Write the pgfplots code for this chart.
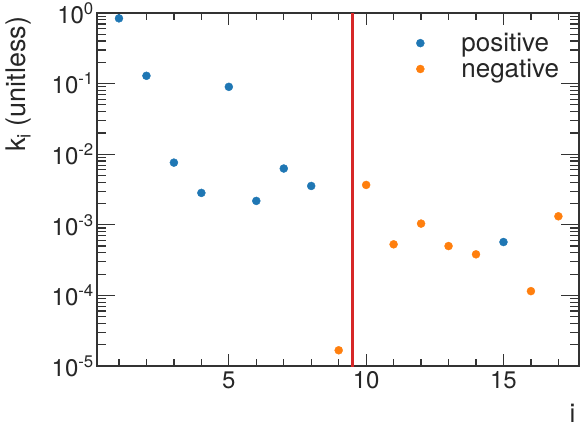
\documentclass[border=0pt]{standalone}
\usepackage{fontspec}
\setmainfont{TeX Gyre Heros}
\usepackage{pgfplots}
\usepackage{pgfplotstable}
\pgfplotsset{compat=1.18}

\definecolor{cblue}{HTML}{1F77B4}
\definecolor{corange}{HTML}{FF7F0E}
\definecolor{cred}{HTML}{D62728}
\definecolor{axgray}{HTML}{333333}

% positive k_i
\pgfplotstableread{
i k
1 0.84
2 0.129
3 0.0076
4 0.00283
5 0.090
6 0.00218
7 0.00627
8 0.00355
15 0.00057
}\positive

% negative k_i
\pgfplotstableread{
i k
9 1.67e-5
10 3.67e-3
11 5.29e-4
12 1.04e-3
13 5.0e-4
14 3.82e-4
16 1.15e-4
17 1.32e-3
}\negative

\begin{document}
\begin{tikzpicture}
\begin{axis}[
    name=ax,
    scale only axis,
    width=482bp, height=353bp,
    ymode=log,
    xmin=0.2, xmax=17.75,
    ymin=1e-5, ymax=1,
    xtick={5,10,15},
    minor xtick={1,...,17},
    ytick={1e-5,1e-4,1e-3,1e-2,1e-1,1},
    yticklabels={10\textsuperscript{-5},10\textsuperscript{-4},10\textsuperscript{-3},10\textsuperscript{-2},10\textsuperscript{-1},10\textsuperscript{0}},
    xticklabels={5,10,15},
    tick align=inside,
    xtick pos=both, ytick pos=both,
    axis line style={axgray, line width=1.2bp},
    every tick/.style={axgray, line width=1.2bp},
    xtick style={/pgfplots/major tick length=12bp, /pgfplots/minor tick length=7bp},
    ytick style={/pgfplots/major tick length=18bp, /pgfplots/minor tick length=9bp},
    tick label style={font=\fontsize{24bp}{28bp}\selectfont, text=black!85},
    xticklabel style={yshift=-2bp},
    yticklabel style={inner sep=1bp, xshift=-2bp},
    xlabel={i},
    ylabel={k\textsubscript{i} (unitless)},
    label style={text=black!85},
    xlabel style={font=\fontsize{26bp}{30bp}\selectfont, at={(rel axis cs:1,0)}, anchor=north east, yshift=-35bp, xshift=0bp},
    ylabel style={font=\fontsize{27bp}{31bp}\selectfont, at={([xshift=-62bp]rel axis cs:0,1)}, anchor=south east},
    legend style={draw=none, fill=none, inner sep=0pt,
        at={(rel axis cs:0.963,0.949)}, anchor=north east,
        font=\fontsize{26bp}{30bp}\selectfont,
        row sep=2bp,
        nodes={text=black!85}},
    legend cell align=left,
    legend image code/.code={\path[draw=none] (-10bp,0bp) -- (39bp,0bp); \draw[#1] plot coordinates {(0bp,0bp)};},
]
\addplot[cred, line width=2.4bp, forget plot] coordinates {(9.5,1e-6) (9.5,10)};
\addplot[only marks, mark=*, mark size=4bp, cblue, mark options={draw=cblue, fill=cblue}] table[x=i, y=k] {\positive};
\addplot[only marks, mark=*, mark size=4bp, corange, mark options={draw=corange, fill=corange}] table[x=i, y=k] {\negative};
\legend{positive, negative}
\end{axis}
\pgfresetboundingbox
\path[use as bounding box] ([shift={(-97bp,-60bp)}]ax.south west) rectangle ([shift={(1bp,13bp)}]ax.north east);
\end{tikzpicture}
\end{document}
